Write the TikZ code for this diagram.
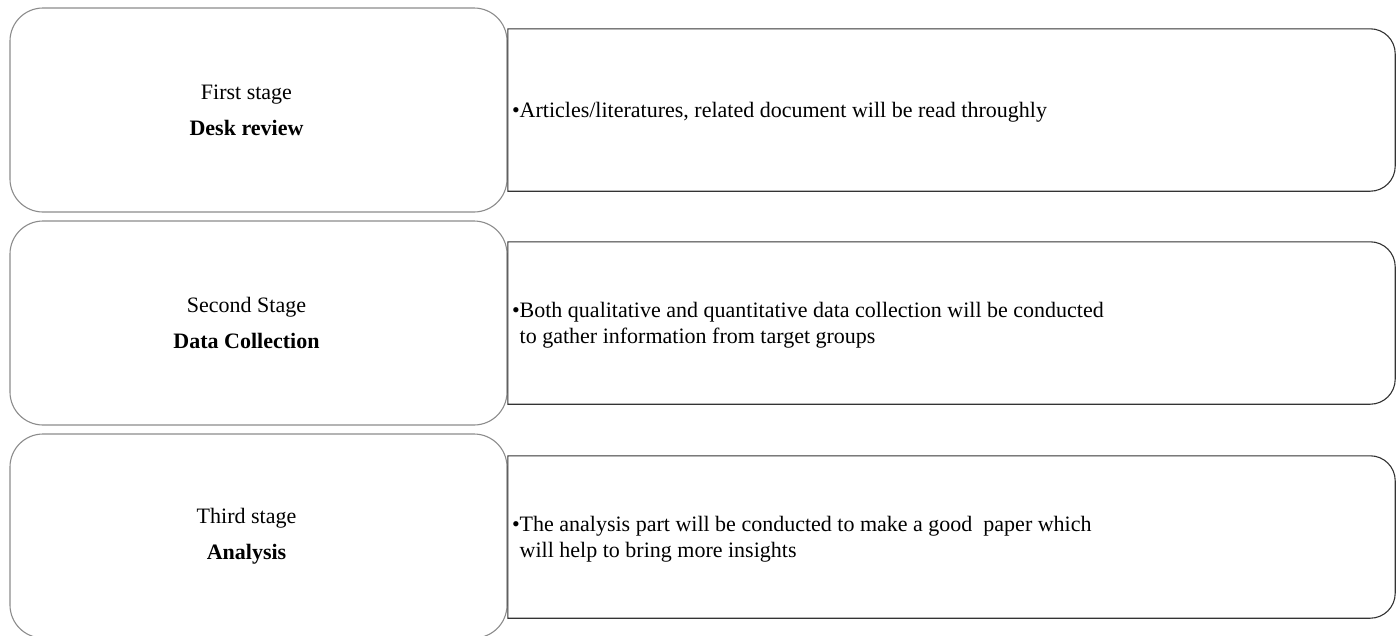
\documentclass[tikz,border=0pt]{standalone}
\usepackage{fontspec}
\setmainfont{Liberation Serif}
\usetikzlibrary{positioning}

\tikzset{
  stagebox/.style={draw=gray!90, line width=1.1pt, fill=white, rounded corners=33pt,
    minimum width=497pt, minimum height=204pt},
  stagetext/.style={align=center, font=\fontsize{22}{36}\selectfont},
  descbox/.style={minimum width=887pt, minimum height=162pt},
  desctext/.style={anchor=base west, inner sep=0pt, align=left, font=\fontsize{22}{26}\selectfont},
  descline/.style={draw=black!80, line width=1.1pt}
}

\begin{document}
\begin{tikzpicture}[x=1pt,y=-1pt]
  \useasboundingbox (0,0) rectangle (1399,635);
  % first stage
  \node[stagebox] (stage1) at (258.5,110) {};
  \node[stagetext] (label1) at ([xshift=-12pt]stage1.center) {First stage\\\textbf{Desk review}};
  \node[descbox] (desc1) at (951.5,110) {};
  \draw[descline] (desc1.north west) -- ([xshift=-25pt]desc1.north east)
    arc[start angle=90,end angle=0,radius=25pt] -- ([yshift=25pt]desc1.south east)
    arc[start angle=0,end angle=-90,radius=25pt] -- (desc1.south west) -- cycle;
  \node[desctext] (text1) at ([xshift=4pt,yshift=-7pt]desc1.west)
    {\textbullet Articles/literatures, related document will be read throughly};
  % second stage
  \node[stagebox] (stage2) at (258.5,323) {};
  \node[stagetext] (label2) at ([xshift=-12pt]stage2.center) {Second Stage\\\textbf{Data Collection}};
  \node[descbox] (desc2) at (951.5,323) {};
  \draw[descline] (desc2.north west) -- ([xshift=-25pt]desc2.north east)
    arc[start angle=90,end angle=0,radius=25pt] -- ([yshift=25pt]desc2.south east)
    arc[start angle=0,end angle=-90,radius=25pt] -- (desc2.south west) -- cycle;
  \node[desctext] (text2) at ([xshift=4pt,yshift=6pt]desc2.west)
    {\textbullet\begin{tabular}[t]{@{}l@{}}Both qualitative and quantitative data collection will be conducted\\to gather information from target groups\end{tabular}};
  % third stage
  \node[stagebox] (stage3) at (258.5,536) {};
  \node[stagetext] (label3) at ([xshift=-12pt]stage3.center) {Third stage\\\textbf{Analysis}};
  \node[descbox] (desc3) at (951.5,537) {};
  \draw[descline] (desc3.north west) -- ([xshift=-25pt]desc3.north east)
    arc[start angle=90,end angle=0,radius=25pt] -- ([yshift=25pt]desc3.south east)
    arc[start angle=0,end angle=-90,radius=25pt] -- (desc3.south west) -- cycle;
  \node[desctext] (text3) at ([xshift=4pt,yshift=6pt]desc3.west)
    {\textbullet\begin{tabular}[t]{@{}l@{}}The analysis part will be conducted to make a good\ \ paper which\\will help to bring more insights\end{tabular}};
\end{tikzpicture}
\end{document}
